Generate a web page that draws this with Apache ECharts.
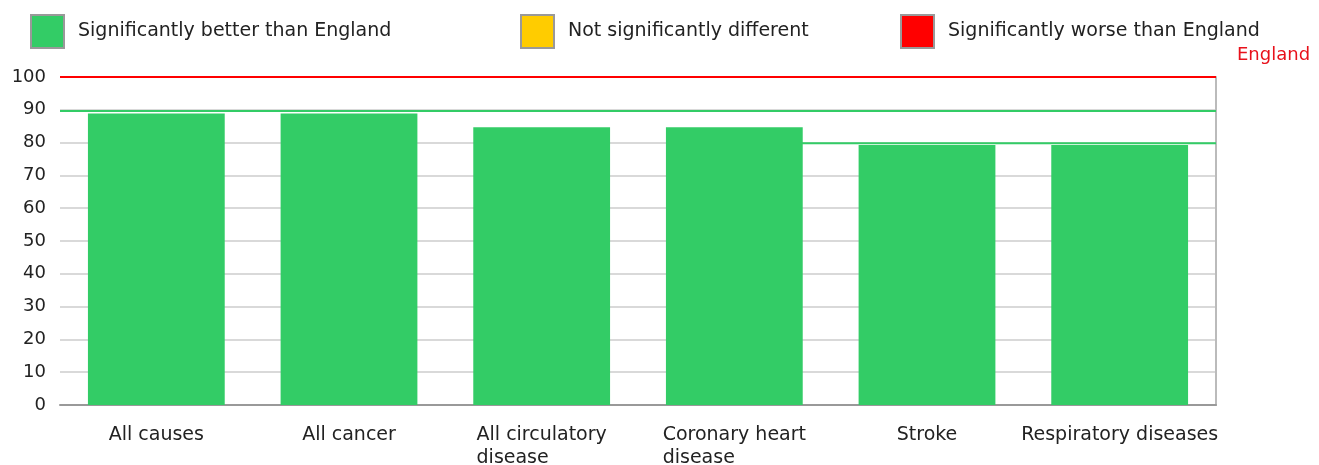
<!DOCTYPE html>
<html>
<head>
<meta charset="utf-8">
<script src="https://cdn.jsdelivr.net/npm/echarts@6/dist/echarts.min.js"></script>
<style>
  html, body { margin: 0; padding: 0; background: #fff; }
  #chart { width: 1319px; height: 465px; }
</style>
</head>
<body>
<div id="chart"></div>
<script>
// categories and values
const categories = [
  "All causes",
  "All cancer",
  "All circulatory\ndisease",
  "Coronary heart\ndisease",
  "Stroke",
  "Respiratory diseases",
];
const rateValues = [88.9, 88.9, 84.7, 84.7, 79.3, 79.3];
const legendNames = [
  "Significantly better than England",
  "Not significantly different",
  "Significantly worse than England",
];
const legendColors = ["#33cc66", "#ffcc00", "#ff0000"];
const englandValue = 100;
const upperLevel = 89.7;
// step line on the right part (x in category units, 0..6)
const lowerLevelSegment = [[3.85, 79.8], [6, 79.8]];
const yMin = 0, yMax = 100, yStep = 10;

const FONT = "DejaVu Sans";
const TEXT = "#222";

const chart = echarts.init(document.getElementById("chart"));

const legendLeft = [25, 515, 895];

const option = {
  animation: false,
  textStyle: { fontFamily: FONT },
  legend: legendNames.map((name, i) => ({
    data: [name],
    left: legendLeft[i],
    top: 9,
    icon: "rect",
    itemWidth: 33,
    itemHeight: 33,
    itemStyle: { borderColor: "#999", borderWidth: 2 },
    textStyle: { fontFamily: FONT, fontSize: 19, color: TEXT, padding: [0, 0, 0, 9] },
    selectedMode: false,
  })),
  grid: { left: 60, right: 103, top: 77, bottom: 60, outerBoundsMode: "none", containLabel: false },
  xAxis: [
    {
      type: "category",
      data: categories,
      axisTick: { show: false },
      axisLine: { lineStyle: { color: "#999", width: 2 } },
      axisLabel: {
        fontFamily: FONT,
        fontSize: 19,
        color: TEXT,
        margin: 19,
        interval: 0,
        formatter: (v) => v.split("\n").map((s) => "{a|" + s + "}").join("\n"),
        rich: { a: { align: "left", fontFamily: FONT, fontSize: 19, color: TEXT, lineHeight: 23 } },
      },
    },
    { type: "value", min: 0, max: 6, show: false },
  ],
  yAxis: [
    {
      type: "value",
      min: yMin,
      max: yMax,
      interval: yStep,
      axisLine: { show: false },
      axisTick: { show: false },
      axisLabel: { fontFamily: FONT, fontSize: 18, color: TEXT, margin: 14, padding: [0, 0, 5, 0] },
      splitLine: { lineStyle: { color: "#cccccc", width: 1.5 } },
    },
    {
      type: "value",
      position: "right",
      min: yMin,
      max: yMax,
      axisLine: { show: true, lineStyle: { color: "#bbbbbb", width: 2 } },
      axisTick: { show: false },
      axisLabel: { show: false },
      splitLine: { show: false },
    },
  ],
  series: [
    {
      name: legendNames[0],
      type: "bar",
      stack: "sig",
      data: rateValues,
      barCategoryGap: "29%",
      itemStyle: { color: legendColors[0] },
      markLine: {
        silent: true,
        symbol: "none",
        data: [
          {
            yAxis: englandValue,
            lineStyle: { color: "#ff0000", width: 2, type: "solid" },
            label: {
              show: true,
              position: "end",
              formatter: "England",
              color: "#e8111b",
              fontFamily: FONT,
              fontSize: 18,
              distance: 21,
              offset: [0, -22],
            },
          },
          {
            yAxis: upperLevel,
            lineStyle: { color: "#33cc66", width: 2, type: "solid" },
            label: { show: false },
          },
        ],
      },
    },
    { name: legendNames[1], type: "bar", stack: "sig", data: [], itemStyle: { color: legendColors[1] } },
    { name: legendNames[2], type: "bar", stack: "sig", data: [], itemStyle: { color: legendColors[2] } },
    {
      name: "level",
      type: "line",
      xAxisIndex: 1,
      data: lowerLevelSegment,
      symbol: "none",
      silent: true,
      lineStyle: { color: "#33cc66", width: 2 },
      z: 3,
    },
  ],
};

chart.setOption(option);
</script>
</body>
</html>
